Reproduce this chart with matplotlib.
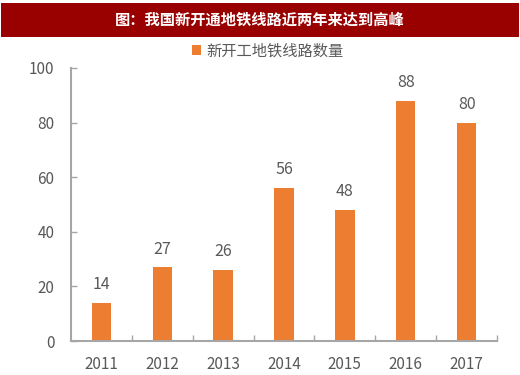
import matplotlib.pyplot as plt
from matplotlib.patches import Rectangle

plt.rcParams["font.family"] = ["Noto Sans CJK SC", "DejaVu Sans"]

years = ["2011", "2012", "2013", "2014", "2015", "2016", "2017"]
new_lines = [14, 27, 26, 56, 48, 88, 80]
y_ticks = [0, 20, 40, 60, 80, 100]

title = "图：我国新开通地铁线路近两年来达到高峰"
legend_label = "新开工地铁线路数量"

bar_color = "#ED7D31"
text_color = "#595959"
axis_color = "#A6A6A6"

fig = plt.figure(figsize=(5.2, 3.75), dpi=100)
ax = fig.add_axes([71 / 520, 34 / 375, 426 / 520, 273 / 375])

x = list(range(len(years)))
bars = ax.bar(x, new_lines, width=0.32, color=bar_color, label=legend_label)

for bar, val in zip(bars, new_lines):
    ax.annotate(str(val), (bar.get_x() + bar.get_width() / 2, val),
                xytext=(0, 7), textcoords="offset points",
                ha="center", va="bottom", fontsize=11.5, color=text_color)

ax.set_xlim(-0.5, len(years) - 0.5)
ax.set_ylim(0, 100)
ax.set_yticks(y_ticks)
ax.set_yticklabels([str(t) for t in y_ticks], fontsize=11, color=text_color)
ax.tick_params(axis="y", direction="in", length=4, width=1, color=axis_color, pad=12)

ax.set_xticks(x)
ax.set_xticklabels(years, fontsize=11, color=text_color)
ax.tick_params(axis="x", which="major", length=0, pad=11)
ax.set_xticks([i + 0.5 for i in x], minor=True)
ax.tick_params(axis="x", which="minor", direction="in", length=4, width=1, color=axis_color)

for side in ["top", "right"]:
    ax.spines[side].set_visible(False)
for side in ["left", "bottom"]:
    ax.spines[side].set_color(axis_color)
    ax.spines[side].set_linewidth(1.5)

# title bar
fig.patches.append(Rectangle((1 / 520, 1 - 37 / 375), 518 / 520, 34 / 375,
                             transform=fig.transFigure, facecolor="#990000",
                             edgecolor="none", zorder=0))
fig.text(0.5, 1 - 20 / 375, title, ha="center", va="center", color="white",
         fontsize=11, fontweight="bold")

fig.legend(loc="center", bbox_to_anchor=(0.515, 1 - 51 / 375), frameon=False,
           fontsize=11, handlelength=0.6, handleheight=0.6, handletextpad=0.4,
           labelcolor=text_color)

fig.savefig("out.png", dpi=100)
